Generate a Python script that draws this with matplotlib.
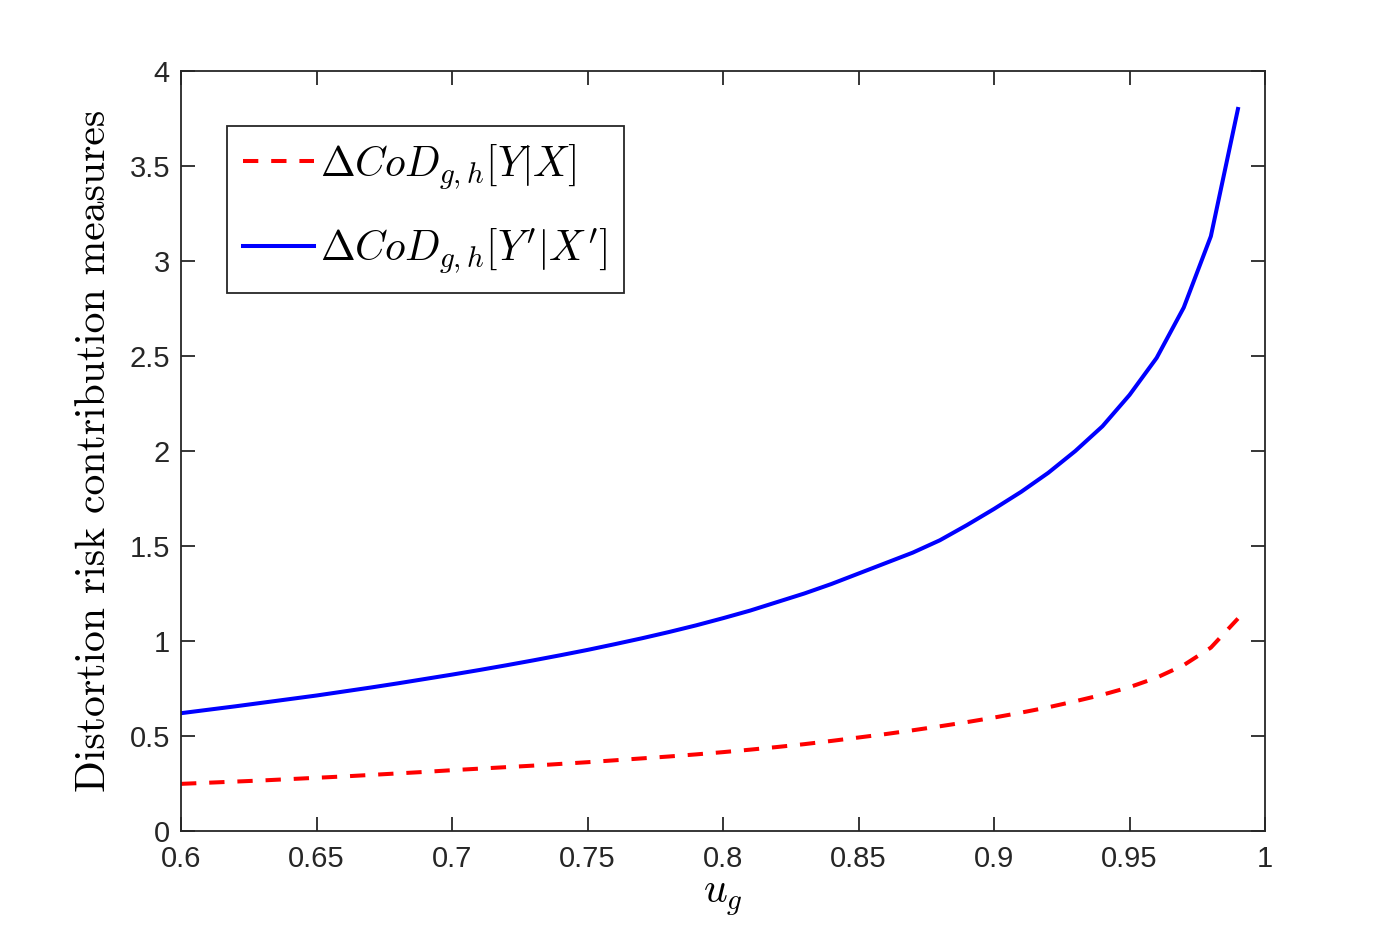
import matplotlib.pyplot as plt
import numpy as np

plt.rcParams['mathtext.fontset'] = 'cm'

u_g = [0.60, 0.61, 0.62, 0.63, 0.64, 0.65, 0.66, 0.67, 0.68, 0.69,
       0.70, 0.71, 0.72, 0.73, 0.74, 0.75, 0.76, 0.77, 0.78, 0.79,
       0.80, 0.81, 0.82, 0.83, 0.84, 0.85, 0.86, 0.87, 0.88, 0.89,
       0.90, 0.91, 0.92, 0.93, 0.94, 0.95, 0.96, 0.97, 0.98, 0.99]

cod_yx = [0.248, 0.254, 0.260, 0.266, 0.273, 0.280, 0.287, 0.295, 0.303, 0.311,
          0.320, 0.328, 0.336, 0.344, 0.353, 0.362, 0.372, 0.382, 0.392, 0.403,
          0.415, 0.428, 0.442, 0.457, 0.474, 0.492, 0.510, 0.530, 0.551, 0.573,
          0.597, 0.623, 0.651, 0.683, 0.717, 0.757, 0.807, 0.873, 0.965, 1.118]

cod_yx_prime = [0.620, 0.638, 0.656, 0.675, 0.694, 0.713, 0.734, 0.755, 0.777, 0.800,
                0.823, 0.847, 0.872, 0.898, 0.925, 0.953, 0.983, 1.014, 1.047, 1.082,
                1.120, 1.160, 1.205, 1.250, 1.300, 1.355, 1.410, 1.465, 1.530, 1.610,
                1.695, 1.785, 1.885, 2.000, 2.130, 2.295, 2.490, 2.755, 3.130, 3.800]

xticks = [0.6, 0.65, 0.7, 0.75, 0.8, 0.85, 0.9, 0.95, 1]
xticklabels = ['0.6', '0.65', '0.7', '0.75', '0.8', '0.85', '0.9', '0.95', '1']
yticks = [0, 0.5, 1, 1.5, 2, 2.5, 3, 3.5, 4]
yticklabels = ['0', '0.5', '1', '1.5', '2', '2.5', '3', '3.5', '4']

fig = plt.figure(figsize=(13.98, 9.34), dpi=100)
ax = fig.add_axes([0.1295, 0.1103, 0.7754, 0.8137])

ax.plot(u_g, cod_yx, color='#ff0000', lw=2.9, linestyle=(0, (3.8, 3.2)),
        label=r'$\Delta CoD_{g,h}[Y|X]$')
ax.plot(u_g, cod_yx_prime, color='#0000ff', lw=2.9,
        label=r"$\Delta CoD_{g,h}[Y'|X']$")

ax.set_xlim(0.6, 1)
ax.set_ylim(0, 4)
ax.set_xticks(xticks)
ax.set_xticklabels(xticklabels, family='Liberation Sans', fontsize=21)
ax.set_yticks(yticks)
ax.set_yticklabels(yticklabels, family='Liberation Sans', fontsize=21)
ax.tick_params(direction='in', length=10, width=1.3, color='#262626',
               top=True, right=True, labelcolor='#262626')
ax.tick_params(axis='x', pad=10)
ax.tick_params(axis='y', pad=8)
for s in ax.spines.values():
    s.set_linewidth(1.3)
    s.set_color('#262626')

ax.set_xlabel(r'$u_g$', fontsize=30, labelpad=2)
ax.set_ylabel('Distortion risk contribution measures', family='cmr10',
              fontsize=30, labelpad=12)

leg = ax.legend(loc='upper left', bbox_to_anchor=(0.042, 0.928), borderaxespad=0,
                fontsize=30, handlelength=1.7, handletextpad=0.15, borderpad=0.4,
                labelspacing=0.85, fancybox=False, framealpha=1,
                edgecolor='#262626')
leg.get_frame().set_linewidth(1.3)

fig.savefig('out.png', dpi=100)
